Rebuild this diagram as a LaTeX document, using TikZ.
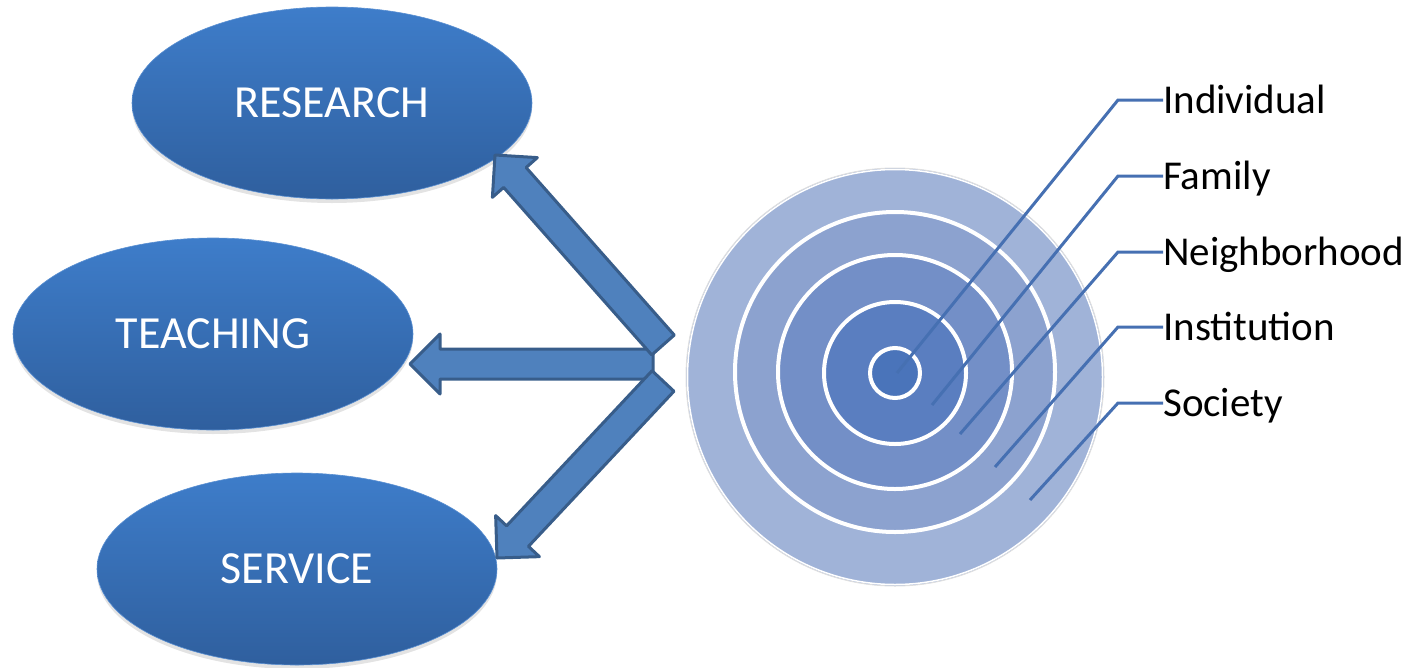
\documentclass[tikz,border=0pt]{standalone}
\usepackage{fontspec}
\setmainfont{Carlito}
\usetikzlibrary{shapes.geometric,calc,shadows}
\definecolor{ellTop}{RGB}{62,125,202}
\definecolor{ellBot}{RGB}{47,95,158}
\definecolor{arrFill}{RGB}{79,129,189}
\definecolor{arrLine}{RGB}{56,93,138}
\definecolor{bandA}{RGB}{160,179,216}
\definecolor{bandB}{RGB}{140,162,207}
\definecolor{bandC}{RGB}{115,143,199}
\definecolor{bandD}{RGB}{90,126,192}
\definecolor{bandE}{RGB}{74,116,186}
\definecolor{leader}{RGB}{70,112,178}
\newcommand\blockarrow[2]{%
  \coordinate (ab) at ($(#2)!30pt!(#1)$);
  \filldraw[arrowstyle] ($(#1)!15pt!90:(#2)$) -- ($(ab)!15pt!-90:(#1)$)
    -- ($(ab)!30pt!-90:(#1)$) -- (#2) -- ($(ab)!30pt!90:(#1)$)
    -- ($(ab)!15pt!90:(#1)$) -- ($(#1)!15pt!-90:(#2)$) -- cycle;}
\begin{document}
\begin{tikzpicture}[x=1pt,y=-1pt,
  ellbox/.style={ellipse, minimum width=400pt, minimum height=192pt, inner sep=0pt,
    top color=ellTop, bottom color=ellBot, draw=ellTop!85!white, line width=0.6pt,
    text=white, font=\fontsize{46pt}{50pt}\selectfont,
    drop shadow={shadow xshift=0pt, shadow yshift=-4pt, opacity=0.22}},
  arrowstyle/.style={fill=arrFill, draw=arrLine, line width=3pt, line join=round},
  band/.style={circle, inner sep=0pt, draw=white, line width=4pt},
  leaderline/.style={draw=leader, line width=3pt},
  lbl/.style={anchor=base west, inner sep=0pt, text=black, font=\fontsize{41pt}{45pt}\selectfont}]
\useasboundingbox (0,0) rectangle (1413,667);

% ellipses
\node[ellbox] (research) at (332,103) {RESEARCH};
\node[ellbox] (teaching) at (213,334) {TEACHING};
\node[ellbox] (service)  at (297,569) {SERVICE};

% block arrows
\coordinate (jm) at (653,364); \coordinate (tt) at (410,364);
\coordinate (jt) at (663,345); \coordinate (rt) at (495,155);
\coordinate (jb) at (663,381); \coordinate (st) at (497,558);
\blockarrow{jm}{tt}
\blockarrow{jt}{rt}
\blockarrow{jb}{st}

% concentric circles
\node[circle, inner sep=0pt, minimum size=418pt, fill=bandA, draw=gray!25, line width=1pt] (society) at (895,377) {};
\draw[white, line width=1.5pt] (society.center) circle[radius=207.5pt];
\node[band, minimum size=320pt, fill=bandB] (institution)  at (895,372) {};
\node[band, minimum size=234pt, fill=bandC] (neighborhood) at (895,372) {};
\node[band, minimum size=142pt, fill=bandD] (family)       at (895,373) {};
\node[band, minimum size=50pt,  fill=bandE] (individual)   at (895,373) {};

% labels
\node[lbl] (lInd) at (1163,113) {Individual};
\node[lbl] (lFam) at (1163,189) {Family};
\node[lbl] (lNei) at (1163,265) {Neighborhood};
\node[lbl] (lIns) at (1163,340) {Institution};
\node[lbl] (lSoc) at (1163,416) {Society};

% leader lines
\coordinate (cInd) at (897,373); \coordinate (kInd) at (1118,100);
\coordinate (cFam) at (932,405); \coordinate (kFam) at (1118,176);
\coordinate (cNei) at (960,434); \coordinate (kNei) at (1118,252);
\coordinate (cIns) at (995,467); \coordinate (kIns) at (1118,327);
\coordinate (cSoc) at (1030,500); \coordinate (kSoc) at (1118,403);
\draw[leaderline] (cInd) -- (kInd) -- (kInd -| lInd.west);
\draw[leaderline] (cFam) -- (kFam) -- (kFam -| lFam.west);
\draw[leaderline] (cNei) -- (kNei) -- (kNei -| lNei.west);
\draw[leaderline] (cIns) -- (kIns) -- (kIns -| lIns.west);
\draw[leaderline] (cSoc) -- (kSoc) -- (kSoc -| lSoc.west);
\end{tikzpicture}
\end{document}
